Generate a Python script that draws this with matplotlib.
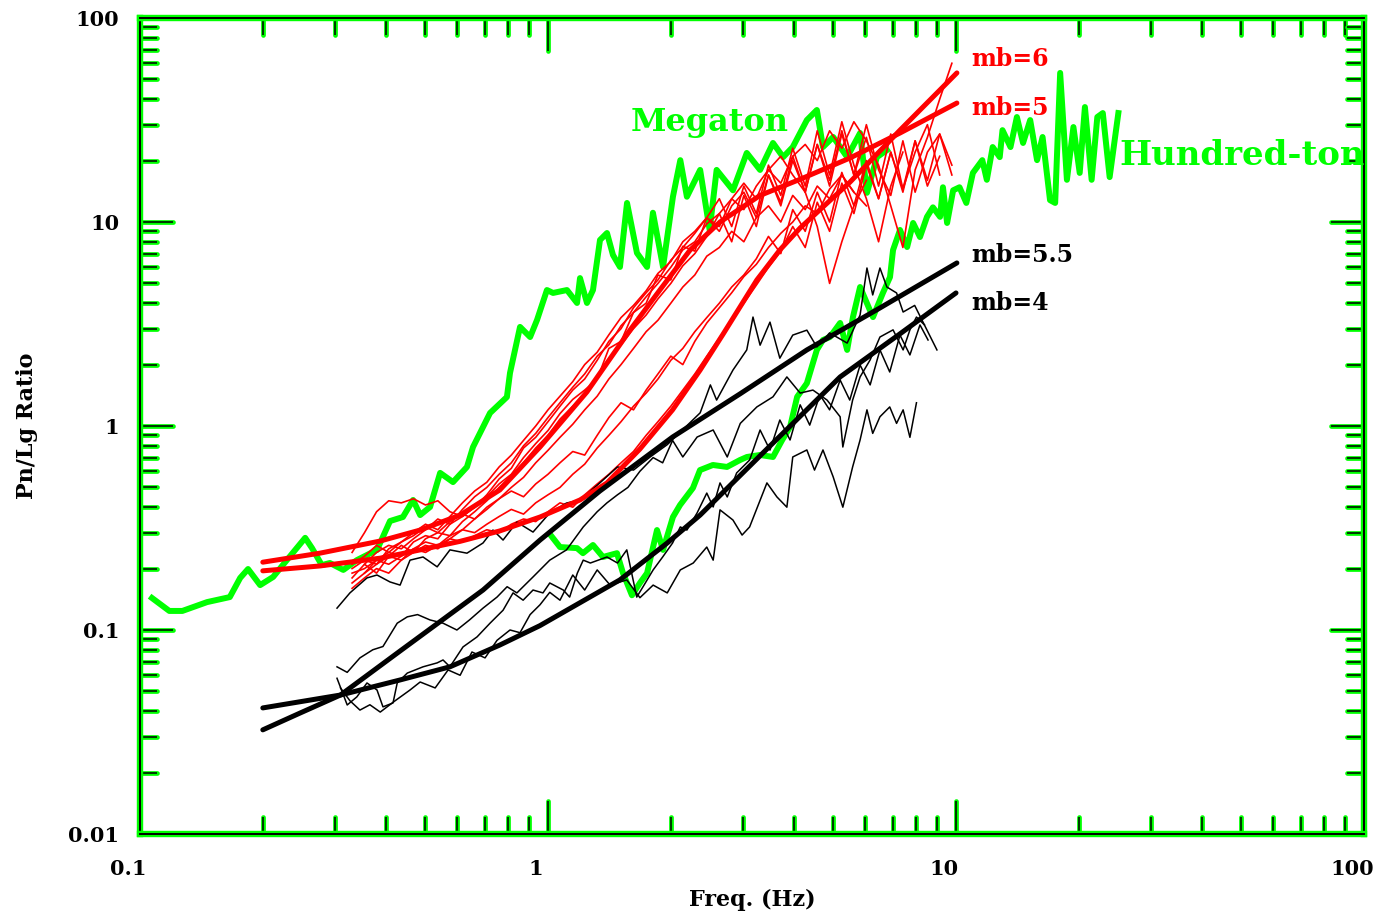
import numpy as np
import matplotlib
matplotlib.use("Agg")
import matplotlib.pyplot as plt
from matplotlib import ticker
import matplotlib.patheffects as pe
from matplotlib.transforms import ScaledTranslation

plt.rcParams['font.family'] = ['DejaVu Serif']
plt.rcParams['font.weight'] = 'bold'
plt.rcParams['axes.labelweight'] = 'bold'

GREEN = '#00ff00'
RED = '#ff0000'

# ---------------- data ----------------
# Megaton (thick green)
mega_f = [0.107, 0.118, 0.127, 0.146, 0.166, 0.176, 0.184, 0.197, 0.212, 0.229,
          0.254, 0.264, 0.279, 0.292, 0.315, 0.340, 0.381, 0.410, 0.441, 0.467,
          0.486, 0.514, 0.544, 0.585, 0.633, 0.655, 0.721, 0.793, 0.807, 0.854,
          0.904, 0.940, 0.994, 1.029, 1.113, 1.178, 1.198, 1.246, 1.289, 1.341,
          1.395, 1.443, 1.501, 1.562, 1.652, 1.749, 1.808, 1.914, 2.024, 2.11,
          2.19, 2.36, 2.49, 2.59, 2.84, 3.07, 3.31, 3.56, 3.77, 3.98,
          4.31, 4.56, 4.72, 5.00, 5.41, 5.82, 6.05, 6.40, 6.77]
mega_v = [0.1435, 0.124, 0.124, 0.137, 0.145, 0.180, 0.199, 0.166, 0.182, 0.220,
          0.283, 0.252, 0.208, 0.213, 0.197, 0.220, 0.247, 0.342, 0.358, 0.434,
          0.366, 0.401, 0.589, 0.531, 0.630, 0.789, 1.158, 1.387, 1.82, 3.06,
          2.73, 3.31, 4.64, 4.49, 4.64, 4.01, 5.31, 4.01, 4.64, 8.16,
          8.83, 6.89, 6.02, 12.4, 7.05, 6.02, 11.1, 6.02, 13.3, 20.1,
          13.3, 18.0, 9.14, 18.0, 14.3, 21.8, 18.0, 24.4, 20.8, 23.3,
          31.6, 35.4, 23.3, 26.1, 20.8, 27.3, 13.9, 20.8, 22.5]

# Hundred-ton (thick green)
hton_f = [1.023, 1.07, 1.178, 1.218, 1.289, 1.364, 1.476, 1.527, 1.606, 1.68,
          1.749, 1.85, 1.914, 2.024, 2.107, 2.266, 2.358, 2.536, 2.746, 2.955,
          3.074, 3.31, 3.56, 3.75, 3.92, 4.08, 4.31, 4.56, 4.72, 4.91,
          5.20, 5.41, 5.59, 5.82, 6.15, 6.26, 6.62, 6.89, 7.01, 7.29,
          7.59, 7.85, 8.16, 8.49, 8.78, 9.14, 9.29, 9.51, 9.84, 10.2,
          10.6, 11.0, 11.6, 11.9, 12.3, 12.8, 13.0, 13.6, 14.1, 14.6,
          15.2, 15.8, 16.3, 17.0, 17.5, 18.0, 18.7, 19.4, 20.1, 20.7,
          21.5, 22.2, 22.9, 23.8, 25.0]
hton_v = [0.286, 0.255, 0.252, 0.238, 0.261, 0.228, 0.238, 0.190, 0.148, 0.170,
          0.190, 0.309, 0.247, 0.358, 0.410, 0.497, 0.608, 0.644, 0.630, 0.681,
          0.705, 0.721, 0.705, 0.854, 0.989, 1.39, 1.62, 2.36, 2.64, 2.73,
          3.20, 2.36, 3.42, 4.80, 3.70, 3.42, 4.49, 5.37, 7.29, 9.14,
          7.54, 9.89, 8.44, 10.6, 11.8, 10.6, 14.8, 9.89, 14.3, 14.8,
          12.4, 17.4, 20.1, 16.1, 23.3, 20.8, 28.2, 23.3, 32.7, 24.4,
          31.6, 20.1, 26.1, 12.8, 12.4, 53.8, 16.1, 29.2, 17.4, 36.6,
          16.1, 32.7, 34.2, 16.6, 34.2]

# Smooth model curves
mb4_f = [0.2, 0.31, 0.434, 0.575, 0.762, 0.955, 1.5, 1.96, 2.36, 3.50, 5.2, 7.29, 10.0]
mb4_v = [0.0415, 0.048, 0.0569, 0.066, 0.0844, 0.105, 0.176, 0.267, 0.366, 0.798, 1.74, 2.83, 4.49]
mb55_f = [0.2, 0.247, 0.31, 0.434, 0.693, 0.956, 1.34, 2.02, 2.96, 4.31, 6.51, 10.05]
mb55_v = [0.0324, 0.0392, 0.048, 0.0789, 0.157, 0.276, 0.48, 0.883, 1.44, 2.36, 3.79, 6.30]
mb5_f = [0.2, 0.276, 0.388, 0.486, 0.609, 0.762, 0.956, 1.246, 1.59, 1.88, 2.23, 2.64,
         3.31, 4.15, 5.50, 7.29, 10.05]
mb5_v = [0.215, 0.238, 0.273, 0.309, 0.366, 0.486, 0.789, 1.47, 2.96, 4.64, 7.29, 10.0,
         13.5, 16.2, 20.6, 27.3, 38.3]
mb6_f = [0.2, 0.276, 0.388, 0.486, 0.609, 0.762, 0.956, 1.198, 1.395, 1.68, 2.02, 2.36,
         2.68, 3.25, 3.70, 4.15, 5.50, 7.29, 10.05]
mb6_v = [0.195, 0.206, 0.225, 0.247, 0.272, 0.306, 0.358, 0.434, 0.526, 0.771, 1.20, 1.88,
         2.80, 5.20, 7.29, 9.35, 15.7, 28.2, 53.8]

# Frequency grid of the thin red spectral ratios
F_GRID = [0.309, 0.331, 0.355, 0.380, 0.407, 0.437, 0.468, 0.501, 0.537, 0.575,
          0.617, 0.661, 0.708, 0.759, 0.813, 0.871, 0.933, 1.0, 1.07, 1.15,
          1.23, 1.32, 1.41, 1.51, 1.62, 1.74, 1.86, 2.0, 2.14, 2.29,
          2.45, 2.63, 2.82, 3.02, 3.24, 3.47, 3.72, 3.98, 4.27, 4.57,
          4.90, 5.25, 5.62, 6.03, 6.46, 6.92, 7.41, 7.94, 8.51, 9.12, 9.77]

red_a1 = [0.24, 0.30, 0.38, 0.43, 0.42, 0.44, 0.41, 0.43, 0.38, 0.36,
          0.40, 0.45, 0.52, 0.58, 0.70, 0.82, 0.95, 1.15, 1.35, 1.50,
          1.7, 2.4, 2.6, 3.6, 4.0, 5.5, 5.2, 7.6, 7.2, 10.5,
          9.0, 12.0, 14.0, 10.5, 17.0, 12.5, 21.0, 14.0, 24.0, 16.0,
          28.0, 17.0, 26.0, 15.0, 27.0, 14.5, 22.0, 30.0, 17.0]
red_a2 = [0.17, 0.19, 0.22, 0.24, 0.23, 0.27, 0.29, 0.28, 0.33, 0.36,
          0.40, 0.46, 0.55, 0.62, 0.78, 0.88, 1.05, 1.25, 1.5, 1.7,
          2.1, 2.6, 3.0, 3.8, 4.5, 5.2, 6.5, 7.5, 8.8, 10.5,
          13.0, 9.5, 15.0, 11.0, 19.0, 13.5, 23.0, 15.0, 28.0, 17.0,
          31.0, 19.0, 13.0, 8.0, 15.0, 22.0]
red_a3 = [0.20, 0.22, 0.21, 0.25, 0.27, 0.30, 0.33, 0.31, 0.36, 0.42,
          0.48, 0.53, 0.63, 0.72, 0.85, 1.0, 1.2, 1.4, 1.65, 2.0,
          2.3, 2.8, 3.4, 3.9, 4.6, 5.6, 6.4, 8.0, 9.0, 10.5,
          9.5, 13.0, 15.5, 13.0, 18.0, 21.0, 17.0, 14.0, 9.5, 5.0,
          8.0, 12.0, 16.0]
red_a4 = [0.21, 0.24, 0.26, 0.25, 0.28, 0.31, 0.35, 0.33, 0.39, 0.45,
          0.50, 0.58, 0.66, 0.80, 0.92, 1.1, 1.3, 1.55, 1.8, 2.2,
          2.5, 3.1, 3.6, 4.3, 5.0, 6.0, 7.3, 8.0, 9.8, 11.0,
          13.0, 11.5, 15.0, 18.0, 15.5, 21.0, 24.0, 20.0, 28.0, 23.0,
          31.0, 25.0, 19.0, 12.0, 7.5, 18.0, 26.0, 40.0, 60.0]
red_a5 = [0.18, 0.21, 0.19, 0.23, 0.26, 0.24, 0.28, 0.30, 0.29, 0.34,
          0.38, 0.43, 0.50, 0.57, 0.66, 0.78, 0.90, 1.08, 1.25, 1.45,
          1.75, 2.1, 2.5, 3.0, 3.5, 4.2, 5.0, 6.1, 7.0, 8.5,
          11.0, 8.0, 13.5, 9.5, 17.0, 12.0, 20.0, 14.0, 24.0, 15.0,
          27.0, 17.0, 30.0, 18.0, 13.5, 25.0, 14.0, 22.0, 27.0, 17.0]
red_a6 = [0.16, 0.18, 0.20, 0.19, 0.22, 0.24, 0.26, 0.25, 0.28, 0.31,
          0.35, 0.39, 0.44, 0.50, 0.56, 0.66, 0.76, 0.88, 1.02, 1.2,
          1.4, 1.7, 2.0, 2.4, 2.9, 3.3, 4.0, 4.8, 5.5, 6.8,
          7.5, 9.0, 8.0, 10.5, 12.0, 10.0, 13.5, 11.5, 15.0, 13.0,
          17.0, 14.0, 12.0]
red_b1 = [0.19, 0.21, 0.23, 0.22, 0.25, 0.27, 0.26, 0.29, 0.31, 0.30,
          0.33, 0.36, 0.39, 0.37, 0.42, 0.46, 0.50, 0.58, 0.65, 0.78,
          0.90, 1.05, 1.25, 1.45, 1.7, 2.1, 2.4, 2.9, 3.4, 4.0,
          4.8, 5.5, 6.6, 8.5, 7.0, 11.5, 9.0, 14.0, 10.0, 17.5,
          12.0, 20.0, 13.0, 22.0, 14.5, 25.0, 15.0, 21.0]
red_b2 = [0.21, 0.23, 0.26, 0.24, 0.27, 0.29, 0.32, 0.30, 0.34, 0.37,
          0.35, 0.40, 0.44, 0.48, 0.45, 0.52, 0.58, 0.66, 0.75, 0.72,
          0.90, 1.1, 1.3, 1.2, 1.5, 1.8, 2.2, 2.0, 2.6, 3.2,
          3.8, 4.5, 5.4, 6.2, 7.5, 8.8, 10.0, 12.0, 11.0, 14.5,
          17.0, 14.0]
red_c1 = [0.19, 0.20, 0.22, 0.21, 0.23, 0.25, 0.24, 0.26, 0.28, 0.27,
          0.29, 0.31, 0.30, 0.33, 0.35, 0.34, 0.38, 0.42, 0.40, 0.46,
          0.52, 0.58, 0.66, 0.75, 0.90, 1.05, 1.25, 1.5, 1.8, 2.2,
          2.7, 3.3, 4.0, 4.9, 6.0, 7.2, 9.5, 7.5, 12.5, 9.0,
          15.5, 11.0, 19.0, 13.0, 22.0, 14.0, 25.0, 16.0, 27.0, 19.0]
# first grid index of each red series
red_start = {'a1': 1, 'a2': 1, 'a3': 1, 'a4': 2, 'a5': 1, 'a6': 1,
             'b1': 2, 'b2': 1, 'c1': 1}

# Thin black spectral ratios
blk1_f = [0.304, 0.327, 0.360, 0.381, 0.410, 0.434, 0.459, 0.494, 0.535, 0.575,
          0.633, 0.693, 0.733, 0.776, 0.839, 0.919, 1.01, 1.11, 1.20, 1.34,
          1.48, 1.62, 1.78, 1.96, 2.14, 2.36, 2.50, 2.59, 2.84, 3.07,
          3.18, 3.31, 3.50, 3.70, 3.98, 4.31, 4.56, 4.90, 5.41, 5.82,
          6.05, 6.25, 6.51, 6.77, 7.15, 7.42, 7.92, 8.32, 8.98]
blk1_v = [0.128, 0.152, 0.180, 0.186, 0.172, 0.166, 0.220, 0.228, 0.204, 0.247,
          0.238, 0.267, 0.309, 0.276, 0.338, 0.302, 0.375, 0.419, 0.434, 0.526,
          0.630, 0.608, 0.705, 0.81, 0.96, 1.16, 1.59, 1.34, 1.88, 2.36,
          3.42, 2.49, 3.23, 2.15, 2.79, 2.95, 2.44, 2.86, 2.55, 3.50,
          5.95, 4.39, 5.95, 4.80, 4.49, 3.62, 3.90, 3.20, 2.36]
blk2_f = [0.304, 0.322, 0.346, 0.372, 0.394, 0.427, 0.452, 0.479, 0.514, 0.553,
          0.598, 0.642, 0.693, 0.750, 0.794, 0.839, 0.919, 1.01, 1.11, 1.22,
          1.32, 1.395, 1.48, 1.57, 1.68, 1.81, 1.91, 2.02, 2.14, 2.32,
          2.54, 2.75, 2.96, 3.25, 3.56, 3.85, 4.15, 4.46, 4.83, 5.20,
          5.28, 5.58, 5.82, 6.16, 6.51, 7.01, 7.42, 7.71, 8.00, 8.37]
blk2_v = [0.066, 0.062, 0.073, 0.080, 0.083, 0.108, 0.116, 0.119, 0.112, 0.108,
          0.100, 0.112, 0.128, 0.145, 0.163, 0.152, 0.182, 0.220, 0.247, 0.320,
          0.38, 0.42, 0.46, 0.50, 0.60, 0.70, 0.66, 0.85, 0.705, 0.883,
          0.956, 0.705, 1.03, 1.24, 1.39, 1.74, 1.45, 1.50, 1.34, 1.11,
          0.789, 1.34, 1.74, 2.11, 2.73, 2.96, 2.36, 2.96, 3.42, 3.13]
blk3_f = [0.304, 0.322, 0.340, 0.360, 0.381, 0.394, 0.417, 0.427, 0.452, 0.494,
          0.535, 0.553, 0.575, 0.619, 0.670, 0.721, 0.776, 0.821, 0.869, 0.919,
          0.972, 1.01, 1.09, 1.13, 1.18, 1.22, 1.27, 1.395, 1.48, 1.56,
          1.65, 1.71, 1.81, 1.91, 2.02, 2.11, 2.19, 2.32, 2.45, 2.54,
          2.64, 2.75, 2.90, 3.12, 3.31, 3.50, 3.70, 3.92, 4.15, 4.38,
          4.64, 4.90, 5.20, 5.49, 5.82, 6.16, 6.51, 6.88, 7.29, 7.71,
          8.16, 8.54]
blk3_v = [0.058, 0.0429, 0.047, 0.055, 0.0508, 0.042, 0.0439, 0.055, 0.0615, 0.066,
          0.069, 0.0713, 0.066, 0.0826, 0.0925, 0.108, 0.125, 0.152, 0.140, 0.157,
          0.152, 0.170, 0.157, 0.145, 0.190, 0.220, 0.213, 0.228, 0.213, 0.247,
          0.145, 0.163, 0.197, 0.228, 0.267, 0.320, 0.309, 0.375, 0.469, 0.401,
          0.526, 0.449, 0.589, 0.681, 0.956, 0.762, 1.07, 0.854, 1.27, 1.01,
          1.42, 1.20, 1.68, 1.34, 1.99, 1.59, 2.36, 1.84, 2.79, 2.23,
          3.13, 2.64]
blk4_f = [0.31, 0.327, 0.346, 0.366, 0.388, 0.422, 0.459, 0.486, 0.529, 0.569,
          0.609, 0.651, 0.701, 0.750, 0.807, 0.854, 0.904, 0.956, 1.01, 1.07,
          1.15, 1.23, 1.32, 1.42, 1.56, 1.68, 1.81, 1.96, 2.11, 2.27,
          2.45, 2.54, 2.64, 2.84, 2.99, 3.12, 3.44, 3.64, 3.85, 3.98,
          4.31, 4.50, 4.72, 5.00, 5.28, 5.58, 5.82, 6.05, 6.25, 6.51,
          6.88, 7.15, 7.42, 7.71, 8.00]
blk4_v = [0.052, 0.045, 0.0405, 0.043, 0.0396, 0.045, 0.0508, 0.0556, 0.052, 0.0637,
          0.060, 0.078, 0.073, 0.089, 0.100, 0.097, 0.119, 0.133, 0.153, 0.140,
          0.186, 0.157, 0.197, 0.166, 0.176, 0.144, 0.166, 0.152, 0.197, 0.213,
          0.255, 0.220, 0.388, 0.346, 0.292, 0.320, 0.526, 0.449, 0.40, 0.705,
          0.763, 0.608, 0.763, 0.563, 0.40, 0.63, 0.854, 1.20, 0.92, 1.11,
          1.24, 1.03, 1.20, 0.88, 1.30]

# ---------------- figure ----------------
fig = plt.figure(figsize=(13.8, 9.14), dpi=100)
ax = fig.add_axes([140 / 1380, 1 - 834 / 914, 1224 / 1380, 816 / 914])
ax.set_xscale('log')
ax.set_yscale('log')
ax.set_xlim(0.1, 100)
ax.set_ylim(0.01, 100)

# green event curves
ax.plot(mega_f, mega_v, color=GREEN, lw=4.3, zorder=2.0, solid_joinstyle='round')
ax.plot(hton_f, hton_v, color=GREEN, lw=4.3, zorder=2.0, solid_joinstyle='round')

# thin red ratios
red_series = {'a1': red_a1, 'a2': red_a2, 'a3': red_a3, 'a4': red_a4, 'a5': red_a5,
              'a6': red_a6, 'b1': red_b1, 'b2': red_b2, 'c1': red_c1}
for key, vals in red_series.items():
    s = red_start[key]
    n = min(len(vals), len(F_GRID) - s)
    ax.plot(F_GRID[s:s + n], vals[:n], color=RED, lw=1.2, zorder=2.1)

# thin black ratios
for fx, vy in [(blk1_f, blk1_v), (blk2_f, blk2_v), (blk3_f, blk3_v), (blk4_f, blk4_v)]:
    ax.plot(fx, vy, color='black', lw=1.1, zorder=2.2)

# thick model curves
ax.plot(mb5_f, mb5_v, color=RED, lw=3.6, zorder=2.3, solid_capstyle='round')
ax.plot(mb6_f, mb6_v, color=RED, lw=3.6, zorder=2.3, solid_capstyle='round')
ax.plot(mb4_f, mb4_v, color='black', lw=3.6, zorder=2.4, solid_capstyle='round')
ax.plot(mb55_f, mb55_v, color='black', lw=3.6, zorder=2.4, solid_capstyle='round')

# annotations
ax.text(10.9, 63, 'mb=6', color=RED, fontsize=17, ha='left', va='center')
ax.text(10.9, 36.2, 'mb=5', color=RED, fontsize=17, ha='left', va='center')
ax.text(10.9, 6.89, 'mb=5.5', color='black', fontsize=17, ha='left', va='center')
ax.text(10.9, 4.01, 'mb=4', color='black', fontsize=17, ha='left', va='center')
ax.text(1.59, 30.9, 'Megaton', color=GREEN, fontsize=23, ha='left', va='center')
ax.text(25.2, 21.3, 'Hundred-ton', color=GREEN, fontsize=24.5, ha='left', va='center',
        clip_on=True)

# ticks
fmt = ticker.FuncFormatter(lambda v, p: f"{v:g}")
for axis in (ax.xaxis, ax.yaxis):
    axis.set_major_locator(ticker.LogLocator(base=10, numticks=20))
    axis.set_minor_locator(ticker.LogLocator(base=10, subs=np.arange(2, 10), numticks=20))
    axis.set_minor_formatter(ticker.NullFormatter())
    axis.set_major_formatter(fmt)
ax.tick_params(which='both', direction='in', top=True, right=True, color='black')
ax.tick_params(which='major', length=24, width=1.1)
ax.tick_params(which='minor', length=12, width=1.1)
ax.tick_params(axis='x', which='major', pad=18, labelsize=15)
ax.tick_params(axis='y', which='major', pad=15, labelsize=15)

for sp in ax.spines.values():
    sp.set_color('black')
    sp.set_linewidth(1.4)
    sp.set_path_effects([pe.Stroke(linewidth=4.6, foreground=GREEN), pe.Normal()])

ax.set_xlabel('Freq. (Hz)', fontsize=16, fontweight='bold', va='center')
ax.xaxis.set_label_coords(0.5, (834 - 900) / 816)
ax.set_ylabel('Pn/Lg Ratio', fontsize=16, fontweight='bold', va='center')
ax.yaxis.set_label_coords((27 - 140) / 1224, 0.5)

fig.canvas.draw()
tick_fx = [pe.Stroke(linewidth=3.4, foreground=GREEN, capstyle='round'), pe.Normal()]
for axis in (ax.xaxis, ax.yaxis):
    for ln in list(axis.get_ticklines()) + list(axis.get_ticklines(minor=True)):
        ln.set_path_effects(tick_fx)
shift = ScaledTranslation(-12 / 100, 0, fig.dpi_scale_trans)
for lbl in ax.get_xticklabels():
    lbl.set_transform(lbl.get_transform() + shift)

fig.savefig('out.png', dpi=100)
